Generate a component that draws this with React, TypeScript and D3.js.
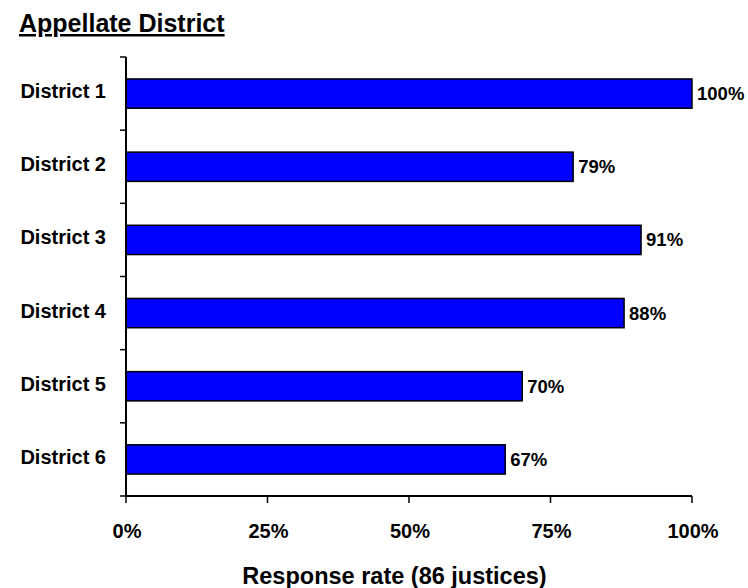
import React from "react";
import * as d3 from "d3";

const categories = ["District 1", "District 2", "District 3", "District 4", "District 5", "District 6"];
const values = [100, 79, 91, 88, 70, 67];
const xTicks = [0, 25, 50, 75, 100];
const title = "Appellate District";
const xTitle = "Response rate (86 justices)";

export default function App() {
  const W = 748, H = 588;
  const x0 = 126, x1 = 692, yTop = 57, yBot = 496;
  const x = d3.scaleLinear().domain([0, 100]).range([x0, x1]);
  const y = d3.scaleBand<string>().domain(categories).range([yTop, yBot]).paddingInner(0.6).paddingOuter(0.3);
  const band = (yBot - yTop) / categories.length;
  const font = "'Liberation Sans', Arial, sans-serif";
  return (
    <svg width={W} height={H} style={{ position: "absolute", left: 0, top: 0 }} fontFamily={font}>
      <rect width={W} height={H} fill="#fff" />
      <text x={19} y={32} fontSize={25} fontWeight="bold" textDecoration="underline">{title}</text>
      {categories.map((c, i) => (
        <g key={c}>
          <rect x={x(0)} y={y(c)!} width={x(values[i]) - x(0)} height={y.bandwidth()} fill="#0000ff" stroke="#000" strokeWidth={1.5} />
          <text x={x(values[i]) + 5} y={y(c)! + y.bandwidth() / 2 + 6.5} fontSize={18.5} fontWeight="bold">{values[i]}%</text>
          <text x={106} y={y(c)! + y.bandwidth() / 2 + 4.5} fontSize={20} fontWeight="bold" textAnchor="end">{c}</text>
        </g>
      ))}
      {d3.range(categories.length + 1).map((i) => (
        <line key={i} x1={120} x2={x0} y1={yTop + i * band} y2={yTop + i * band} stroke="#000" strokeWidth={1.5} />
      ))}
      <line x1={x0} x2={x0} y1={yTop} y2={yBot} stroke="#000" strokeWidth={2} />
      <line x1={x0} x2={x1} y1={yBot} y2={yBot} stroke="#000" strokeWidth={2} />
      {xTicks.map((t) => (
        <g key={t}>
          <line x1={x(t)} x2={x(t)} y1={yBot} y2={yBot + 7} stroke="#000" strokeWidth={1.5} />
          <text x={x(t) + 1} y={537.5} fontSize={20} fontWeight="bold" textAnchor="middle">{t}%</text>
        </g>
      ))}
      <text x={394.5} y={584} fontSize={23.5} fontWeight="bold" textAnchor="middle">{xTitle}</text>
    </svg>
  );
}
